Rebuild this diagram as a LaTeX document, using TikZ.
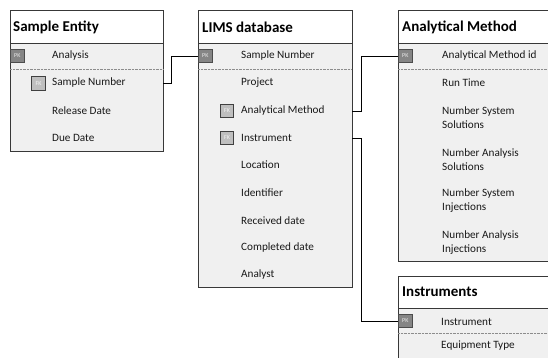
\documentclass[tikz,border=0pt]{standalone}
\usepackage{fontspec}
\setmainfont{Carlito}
\begin{document}
\begin{tikzpicture}[x=1pt,y=-1pt,
  entbox/.style={draw=black!78,fill=black!6,line width=0.8pt,inner sep=0pt,outer sep=0pt,anchor=north west},
  hdrbox/.style={draw=black!78,fill=white,line width=0.8pt,inner sep=0pt,outer sep=0pt,anchor=north west},
  hdrtxt/.style={anchor=west,inner sep=0pt,font=\fontsize{15}{17}\selectfont\bfseries},
  fld/.style={anchor=west,inner sep=0pt,align=left,font=\fontsize{11.2}{14}\selectfont,text=black!90},
  pkbadge/.style={draw=black!70,fill=black!48,line width=0.6pt,minimum width=14pt,minimum height=12.5pt,inner sep=0pt,anchor=west,font=\fontsize{6}{6}\selectfont,text=black!8},
  fkbadge/.style={draw=black!75,fill=black!25,line width=0.7pt,minimum size=13pt,inner sep=0pt,font=\fontsize{6}{6}\selectfont,text=black!4},
  sep/.style={draw=black!45,line width=0.6pt,dash pattern=on 0.7pt off 0.7pt},
  conn/.style={draw=black,line width=0.8pt}]
\clip (0,0) rectangle (548,358);
\fill[white] (0,0) rectangle (548,358);

% Sample Entity
\node[entbox,minimum width=153pt,minimum height=141pt] (se) at (10,10) {};
\node[hdrbox,minimum width=153pt,minimum height=33pt] (seh) at (10,10) {};
\node[hdrtxt] (set) at (13,27) {Sample Entity};
\node[pkbadge] (sepk) at (10,56) {PK};
\draw[sep] (10,69.5) -- (163,69.5);
\node[fkbadge,minimum size=14.5pt] (sefk) at (38.5,83.5) {FK};
\node[fld] (se1) at (52,56) {Analysis};
\node[fld] (se2) at (52,83) {Sample Number};
\node[fld] (se3) at (52,110.5) {Release Date};
\node[fld] (se4) at (52,138) {Due Date};
\coordinate (seout) at (163,83.5);

% LIMS database
\node[entbox,minimum width=154pt,minimum height=277pt] (li) at (198,10) {};
\node[hdrbox,minimum width=154pt,minimum height=33pt] (lih) at (198,10) {};
\node[hdrtxt] (lit) at (202,27) {LIMS database};
\node[pkbadge] (lipk) at (198,56) {PK};
\draw[sep] (198,69.5) -- (352,69.5);
\node[fkbadge] (lifk1) at (227,111) {FK};
\node[fkbadge] (lifk2) at (227,138) {FK};
\node[fld] (li1) at (241,56) {Sample Number};
\node[fld] (li2) at (241,83) {Project};
\node[fld] (li3) at (241,111) {Analytical Method};
\node[fld] (li4) at (241,138) {Instrument};
\node[fld] (li5) at (241,165) {Location};
\node[fld] (li6) at (241,193) {Identifier};
\node[fld] (li7) at (241,220.5) {Received date};
\node[fld] (li8) at (241,248) {Completed date};
\node[fld] (li9) at (241,275) {Analyst};
\coordinate (liout1) at (352,111);
\coordinate (liout2) at (352,138);

% Analytical Method
\node[entbox,minimum width=160pt,minimum height=251pt] (am) at (398,10) {};
\node[hdrbox,minimum width=160pt,minimum height=33pt] (amh) at (398,10) {};
\node[hdrtxt] (amt) at (402,27) {Analytical Method};
\node[pkbadge] (ampk) at (398,56) {PK};
\draw[sep] (398,69.5) -- (558,69.5);
\node[fld] (am1) at (442,56) {Analytical Method id};
\node[fld] (am2) at (442,83) {Run Time};
\node[fld] (am3) at (442,118) {Number System\\Solutions};
\node[fld] (am4) at (442,160) {Number Analysis\\Solutions};
\node[fld] (am5) at (442,201) {Number System\\Injections};
\node[fld] (am6) at (442,242.5) {Number Analysis\\Injections};

% Instruments
\node[entbox,minimum width=160pt,minimum height=100pt] (in) at (398,276) {};
\node[hdrbox,minimum width=160pt,minimum height=32pt] (inh) at (398,276) {};
\node[hdrtxt] (intt) at (402,292) {Instruments};
\node[pkbadge] (inpk) at (398,321) {PK};
\draw[sep] (398,333) -- (558,333);
\node[fld] (in1) at (441,322) {Instrument};
\node[fld] (in2) at (441,346) {Equipment Type};

% connectors
\draw[conn] (seout) -- (171,83.5) |- (lipk.west);
\draw[conn] (liout1) -- (361,111) |- (ampk.west);
\draw[conn] (liout2) -- (361,138) |- (inpk.west);
\end{tikzpicture}
\end{document}
